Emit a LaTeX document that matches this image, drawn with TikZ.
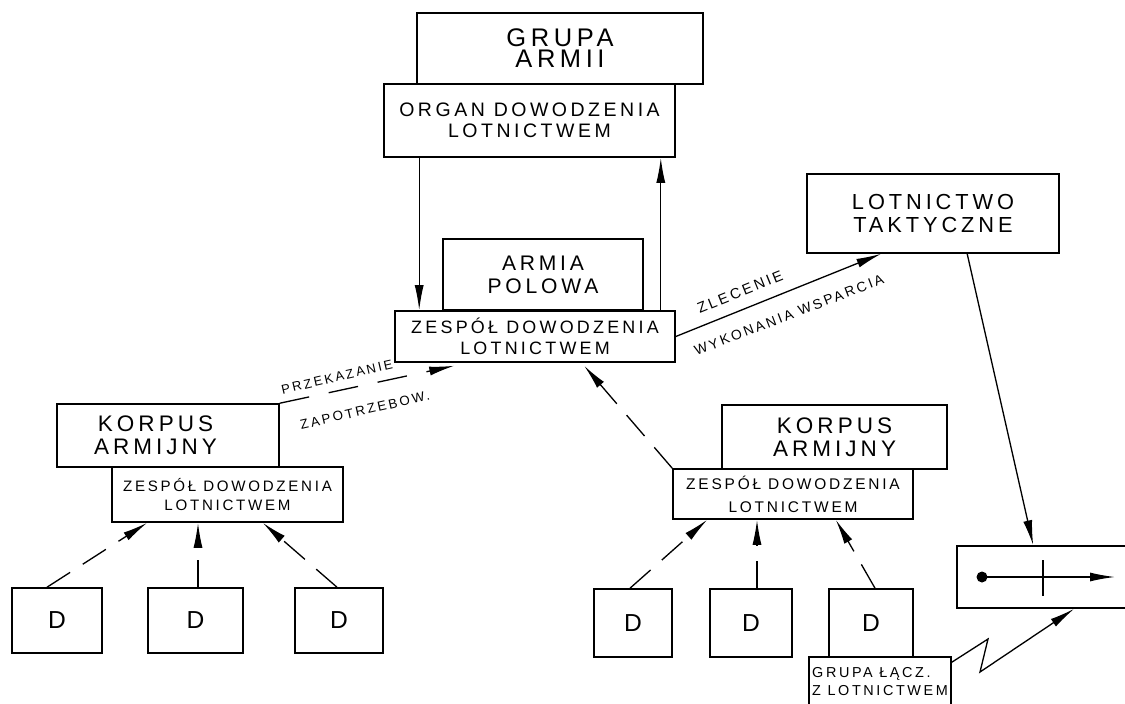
\documentclass[tikz,border=0pt]{standalone}
\usepackage{fontspec}
\newfontfamily\hand{Liberation Sans}[LetterSpace=18]
\usetikzlibrary{arrows.meta,calc}
\begin{document}
\begin{tikzpicture}[x=0.02cm,y=-0.02cm,
  box/.style 2 args={draw,line width=0.9pt,minimum width=#1*0.02cm,minimum height=#2*0.02cm,inner sep=0pt,align=center},
  fnt/.style 2 args={font=\hand\fontsize{#1}{#2}\selectfont},
  arr/.style={line width=0.75pt,-{Latex[length=5mm,width=1.8mm]}},
  darr/.style={arr,dash pattern=on 0.55cm off 0.3cm},
  lbl/.style={font=\hand\fontsize{#1}{#1}\selectfont,inner sep=0pt}
]
\useasboundingbox (0,0) rectangle (1125,703);
\clip (0,0) rectangle (1125,703);
% top
\node[box={286}{71},fnt={14.5}{12}] (grupa) at (560,48.5) {GRUPA\\ARMII};
\node[box={291}{73},fnt={11.1}{12}] (organ) at (529.5,120.5) {ORGAN DOWODZENIA\\LOTNICTWEM};
\node[box={200}{71},fnt={12}{13}] (armia) at (543,274.5) {ARMIA\\POLOWA};
\node[box={280}{51},fnt={10.2}{12}] (zespc) at (535,336.5) {ZESPÓŁ DOWODZENIA\\LOTNICTWEM};
\node[box={252}{79},fnt={12.4}{13}] (lotn) at (933,213.5) {LOTNICTWO\\TAKTYCZNE};
% left group
\node[box={222}{63},fnt={12.8}{13}] (korpL) at (168,435.5) {KORPUS\hspace*{0.5cm}\\ARMIJNY\hspace*{0.5cm}};
\node[box={231}{55},fnt={8.6}{11.3}] (zespL) at (227.5,494.5) {ZESPÓŁ DOWODZENIA\\LOTNICTWEM};
\node[box={90}{65},fnt={14}{14}] (D1) at (57,620.5) {D};
\node[box={95}{65},fnt={14}{14}] (D2) at (195.5,620.5) {D};
\node[box={88}{65},fnt={14}{14}] (D3) at (339,620.5) {D};
% right group
\node[box={225}{64},fnt={12.8}{13}] (korpR) at (834.5,437) {KORPUS\\ARMIJNY};
\node[box={240}{50},fnt={8.8}{13}] (zespR) at (793,494) {ZESPÓŁ DOWODZENIA\\LOTNICTWEM};
\node[box={78}{68},fnt={14}{14}] (D4) at (633,623) {D};
\node[box={82}{68},fnt={14}{14}] (D5) at (751,623) {D};
\node[box={84}{68},fnt={14}{14}] (D6) at (871,623) {D};
\node[box={142}{49},fnt={8.2}{9.8},align=left] (grupaR) at (880,681.5) {GRUPA ŁĄCZ.\\Z LOTNICTWEM};
\node[box={183}{62}] (symb) at (1048.5,577) {};
% symbol inside
\coordinate (s1) at (982,577);
\coordinate (s2) at (1115,577);
\fill (s1) circle (0.11cm);
\draw[arr] (s1) -- (s2);
\draw[line width=0.75pt] (1043,560) -- (1043,596);
% connectors
\coordinate (oA) at ([xshift=0.72cm]organ.south west);
\draw[arr] (oA) -- (oA |- zespc.north);
\coordinate (oB) at ([xshift=-0.3cm]organ.south east);
\draw[arr] (oB |- zespc.north) -- (oB);
\coordinate (zc1) at ([xshift=1.2cm,yshift=-0.06cm]zespc.south west);
\draw[arr,dash pattern=on 0.6cm off 0.4cm] (korpL.north east) -- (zc1);
\coordinate (zc2) at ([xshift=3.8cm,yshift=-0.06cm]zespc.south west);
\draw[darr] (zespR.north west) -- (zc2);
\coordinate (lt1) at ([xshift=1.5cm]lotn.south west);
\draw[arr] (zespc.east) -- (lt1);
\draw[arr] ([xshift=3.22cm]lotn.south west) -- ([xshift=1.54cm]symb.north west);
\coordinate (z1) at (988,639);
\coordinate (z2) at (980,672);
\draw[arr] ([yshift=-0.12cm]grupaR.north east) -- (z1) -- (z2) -- ([xshift=2.36cm]symb.south west);
% D arrows
\draw[darr] ([xshift=-0.2cm]D1.north) -- ([xshift=0.72cm]zespL.south west);
\coordinate (d2) at ([xshift=0.05cm]D2.north);
\draw[darr] (d2) -- (d2 |- zespL.south);
\draw[darr] ([xshift=-0.04cm]D3.north) -- ([xshift=-1.62cm]zespL.south east);
\draw[darr] ([xshift=-0.06cm]D4.north) -- ([xshift=0.7cm]zespR.south west);
\coordinate (d5) at ([xshift=0.12cm]D5.north);
\draw[darr] (d5) -- (d5 |- zespR.south);
\draw[darr] ([xshift=0.08cm]D6.north) -- ([xshift=-1.56cm]zespR.south east);
% labels
\node[lbl=7.4,rotate=13] (l1) at (337,377) {PRZEKAZANIE};
\node[lbl=7.6,rotate=13] (l2) at (365,410) {ZAPOTRZEBOW.};
\node[lbl=8.4,rotate=22] (l3) at (740,292) {ZLECENIE};
\node[lbl=7.9,rotate=21] (l4) at (789,315) {WYKONANIA WSPARCIA};
\end{tikzpicture}
\end{document}
